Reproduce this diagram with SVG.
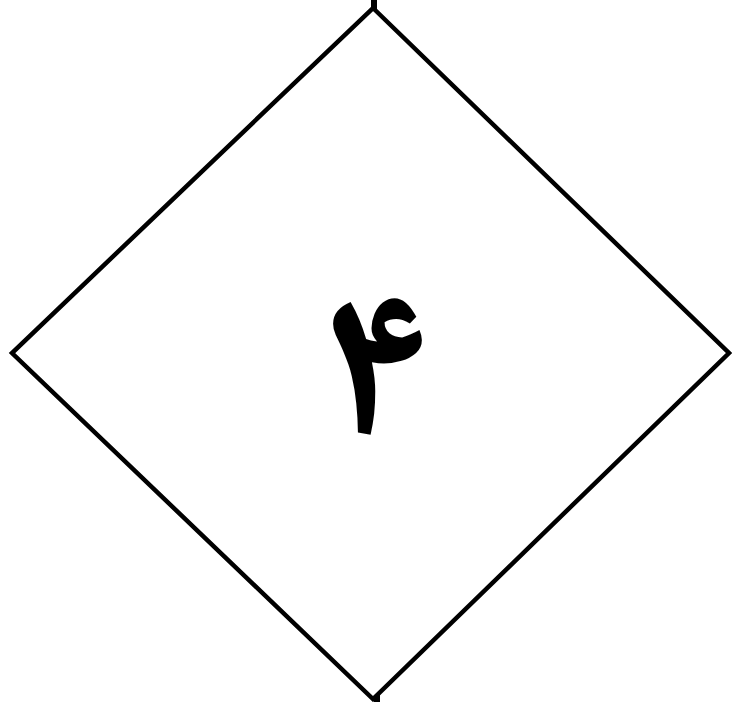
<svg xmlns="http://www.w3.org/2000/svg" width="732" height="702" viewBox="0 0 732 702">
<style>
.shape{fill:#fff;stroke:#000;stroke-width:4.5}
.edge{stroke:#000;stroke-width:6;fill:none}
.lbl{font-family:"Noto Naskh Arabic","Noto Sans Arabic","Amiri","Scheherazade New",serif;font-weight:bold;font-size:222px;fill:#000;text-anchor:middle}
</style>
<g id="connectors">
<line class="edge" x1="374" y1="0" x2="374" y2="12"/>
<line class="edge" x1="377" y1="694" x2="377" y2="702"/>
</g>
<g id="node4">
<polygon class="shape" points="373,8 729,353 373,699 12,353"/>
<text class="lbl" x="380" y="434">۴</text>
</g>
</svg>
